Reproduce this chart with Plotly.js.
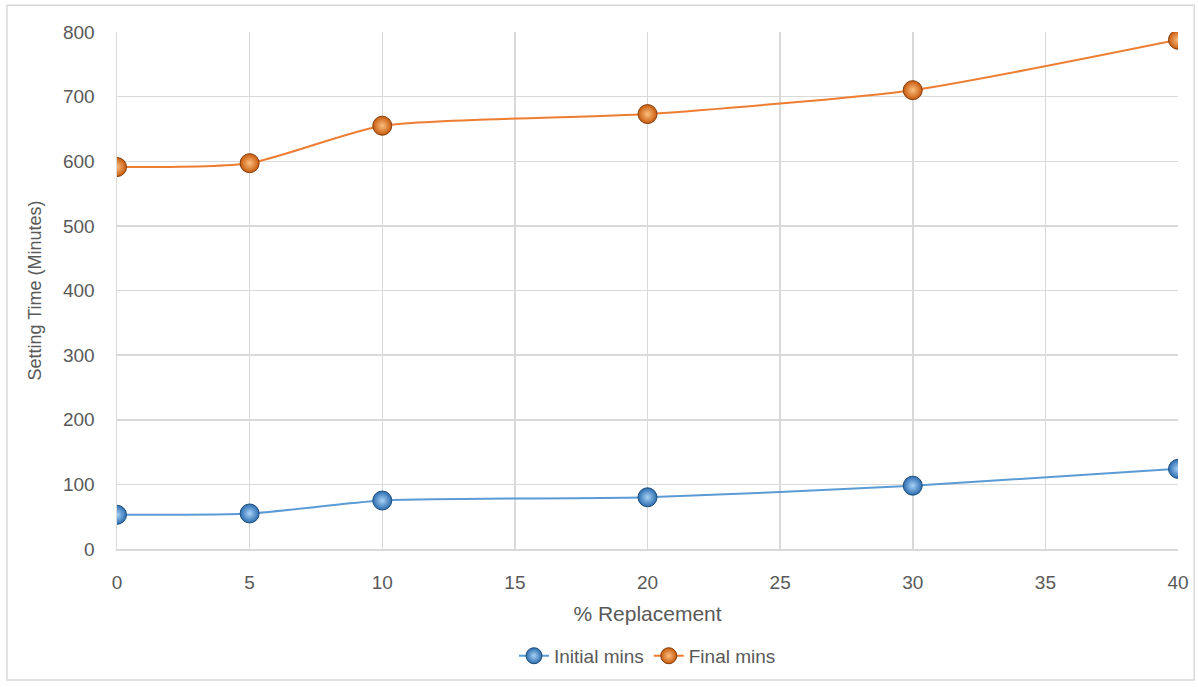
<!DOCTYPE html>
<html>
<head>
<meta charset="utf-8">
<script src="https://cdn.plot.ly/plotly-3.0.1.min.js"></script>
<style>
html,body{margin:0;padding:0;background:#fff;}
#chart{width:1198px;height:687px;}
</style>
</head>
<body>
<div id="chart"></div>
<script>
const replacement = [0, 5, 10, 20, 30, 40];
const initialMins = [53, 55, 75, 80, 98, 124];
const finalMins = [591, 597, 655, 673, 710, 788];
const seriesNames = ["Initial mins", "Final mins"];

const gray = "#595959";
const font = {family: "Liberation Sans, Arial, sans-serif", size: 18, color: gray};

const traces = [
  {
    x: replacement, y: initialMins, name: seriesNames[0],
    mode: "lines+markers", type: "scatter",
    line: {color: "#5B9BD5", width: 2, shape: "spline", smoothing: 0.6},
    marker: {size: 19, color: "#2A6CB0", gradient: {type: "radial", color: "#A9D2F5"},
             line: {color: "#1F4E79", width: 1}}
  },
  {
    x: replacement, y: finalMins, name: seriesNames[1],
    mode: "lines+markers", type: "scatter",
    line: {color: "#ED7D31", width: 2, shape: "spline", smoothing: 0.6},
    marker: {size: 19, color: "#C85A0C", gradient: {type: "radial", color: "#FBBF80"},
             line: {color: "#843C0C", width: 1}}
  }
];

const layout = {
  width: 1198, height: 687,
  margin: {l: 117, r: 20, t: 32, b: 134},
  paper_bgcolor: "#fff", plot_bgcolor: "#fff",
  font: font,
  showlegend: true,
  legend: {orientation: "h", x: 0.5, xanchor: "center", y: -0.17, yanchor: "top",
           font: {family: font.family, size: 19, color: gray}},
  xaxis: {
    range: [0, 40], dtick: 5, tick0: 0,
    showgrid: true, gridcolor: "#d9d9d9", gridwidth: 1.5,
    zeroline: false, showline: true, linecolor: "#d9d9d9", linewidth: 1.5,
    ticks: "", ticklabelstandoff: 16, tickfont: {size: 19, color: gray},
    title: {text: "% Replacement", font: {size: 21, color: gray}, standoff: 14}
  },
  yaxis: {
    range: [0, 800], dtick: 100, tick0: 0,
    showgrid: true, gridcolor: "#d9d9d9", gridwidth: 1.5,
    zeroline: false, showline: true, linecolor: "#d9d9d9", linewidth: 1.5, mirror: false,
    ticks: "", ticklabelstandoff: 17, tickfont: {size: 19, color: gray},
    title: {text: "Setting Time (Minutes)", font: {size: 18, color: gray}, standoff: 16}
  },
  shapes: [{
    type: "rect", xref: "paper", yref: "paper",
    x0: -0.1037, x1: 1.0153, y0: -0.2534, y1: 1.0518,
    line: {color: "#d9d9d9", width: 1.5}, fillcolor: "rgba(0,0,0,0)", layer: "below"
  }]
};

Plotly.newPlot("chart", traces, layout, {displayModeBar: false, staticPlot: true});
</script>
</body>
</html>
